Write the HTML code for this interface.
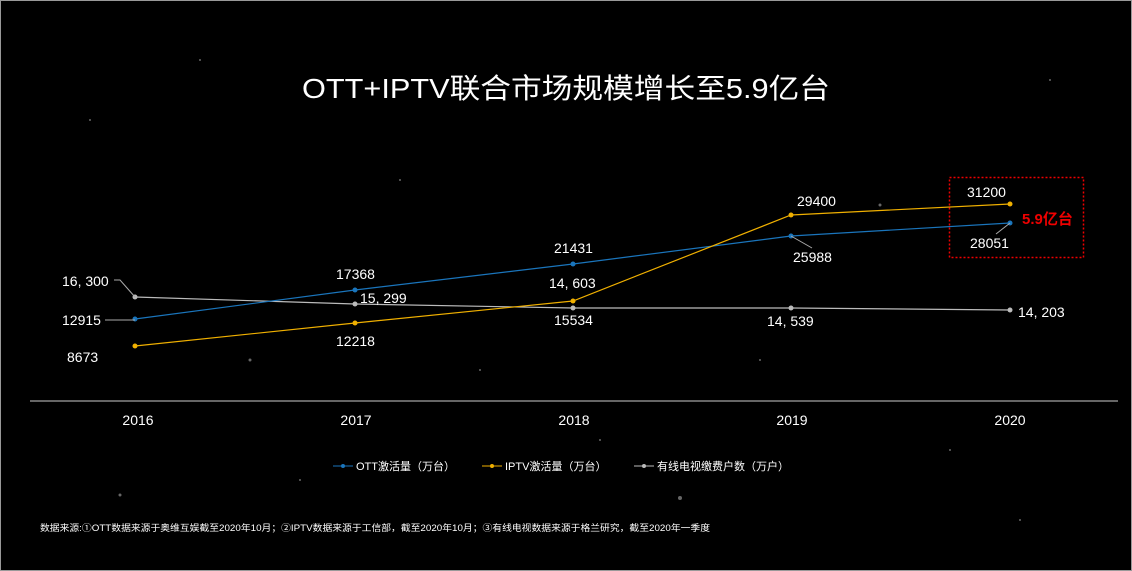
<!DOCTYPE html>
<html><head><meta charset="utf-8"><style>
html,body{margin:0;padding:0;background:#000;}
body{width:1132px;height:571px;overflow:hidden;}
svg{display:block;font-family:"Liberation Sans","Noto Sans CJK SC",sans-serif;}
</style></head><body>
<svg width="1132" height="571" viewBox="0 0 1132 571">
<rect x="0.5" y="0.5" width="1131" height="570" fill="#000" stroke="#999"/>
<g fill="#aaa" opacity="0.6">
<circle cx="120" cy="495" r="1.5"/><circle cx="680" cy="498" r="2"/><circle cx="1020" cy="520" r="1"/><circle cx="90" cy="120" r="1"/><circle cx="400" cy="180" r="1"/><circle cx="880" cy="205" r="1.5"/><circle cx="200" cy="60" r="1"/><circle cx="1050" cy="80" r="1"/><circle cx="600" cy="440" r="1"/><circle cx="300" cy="480" r="1"/><circle cx="950" cy="450" r="1"/><circle cx="480" cy="370" r="1"/><circle cx="760" cy="360" r="1"/><circle cx="250" cy="360" r="1.5"/>
</g>
<text x="302" y="98" fill="#fff" font-size="28" textLength="528" lengthAdjust="spacingAndGlyphs">OTT+IPTV联合市场规模增长至5.9亿台</text>
<line x1="30" y1="401" x2="1118" y2="401" stroke="#ccc" stroke-width="1"/>
<g fill="#fff" font-size="14" text-anchor="middle">
<text x="138" y="425">2016</text><text x="356" y="425">2017</text><text x="574" y="425">2018</text><text x="792" y="425">2019</text><text x="1010" y="425">2020</text>
</g>
<polyline points="135,297 355,304 573,308 791,308 1010,310" fill="none" stroke="#bbb" stroke-width="1.2"/>
<polyline points="135,319 355,290 573,264 791,236 1010,223" fill="none" stroke="#1a75bc" stroke-width="1.2"/>
<polyline points="135,346 355,323 573,301 791,215 1010,204" fill="none" stroke="#f0b000" stroke-width="1.2"/>
<g fill="#bbb"><circle cx="135" cy="297" r="2.5"/><circle cx="355" cy="304" r="2.5"/><circle cx="573" cy="308" r="2.5"/><circle cx="791" cy="308" r="2.5"/><circle cx="1010" cy="310" r="2.5"/></g>
<g fill="#1a75bc"><circle cx="135" cy="319" r="2.5"/><circle cx="355" cy="290" r="2.5"/><circle cx="573" cy="264" r="2.5"/><circle cx="791" cy="236" r="2.5"/><circle cx="1010" cy="223" r="2.5"/></g>
<g fill="#f0b000"><circle cx="135" cy="346" r="2.5"/><circle cx="355" cy="323" r="2.5"/><circle cx="573" cy="301" r="2.5"/><circle cx="791" cy="215" r="2.5"/><circle cx="1010" cy="204" r="2.5"/></g>
<g stroke="#aaa" fill="none"><polyline points="114,280 120,280 135,297"/><line x1="105" y1="320" x2="135" y2="320"/><line x1="791" y1="236" x2="812" y2="248"/><line x1="1010" y1="223" x2="996" y2="234"/></g>
<g fill="#fff" font-size="14">
<text x="62" y="286">16, 300</text><text x="62" y="325">12915</text><text x="67" y="362">8673</text>
<text x="336" y="279">17368</text><text x="360" y="303">15, 299</text><text x="336" y="346">12218</text>
<text x="554" y="253">21431</text><text x="549" y="288">14, 603</text><text x="554" y="325">15534</text>
<text x="797" y="206">29400</text><text x="793" y="262">25988</text><text x="767" y="326">14, 539</text>
<text x="967" y="197">31200</text><text x="970" y="248">28051</text><text x="1018" y="317">14, 203</text>
</g>
<rect x="949.5" y="177.5" width="134" height="80" fill="none" stroke="#e00" stroke-width="1.5" stroke-dasharray="2,2"/>
<text x="1022" y="224" fill="#e00" font-size="15" font-weight="bold">5.9亿台</text>
<g font-size="11" fill="#fff">
<line x1="333" y1="466" x2="353" y2="466" stroke="#1a75bc"/><circle cx="343" cy="466" r="2" fill="#1a75bc"/><text x="356" y="470">OTT激活量（万台）</text>
<line x1="482" y1="466" x2="502" y2="466" stroke="#f0b000"/><circle cx="492" cy="466" r="2" fill="#f0b000"/><text x="505" y="470">IPTV激活量（万台）</text>
<line x1="634" y1="466" x2="654" y2="466" stroke="#bbb"/><circle cx="644" cy="466" r="2" fill="#bbb"/><text x="657" y="470">有线电视缴费户数（万户）</text>
</g>
<text x="40" y="531" fill="#fff" font-size="9" textLength="670" lengthAdjust="spacingAndGlyphs">数据来源:①OTT数据来源于奥维互娱截至2020年10月；②IPTV数据来源于工信部，截至2020年10月；③有线电视数据来源于格兰研究，截至2020年一季度</text>
</svg>
</body></html>
